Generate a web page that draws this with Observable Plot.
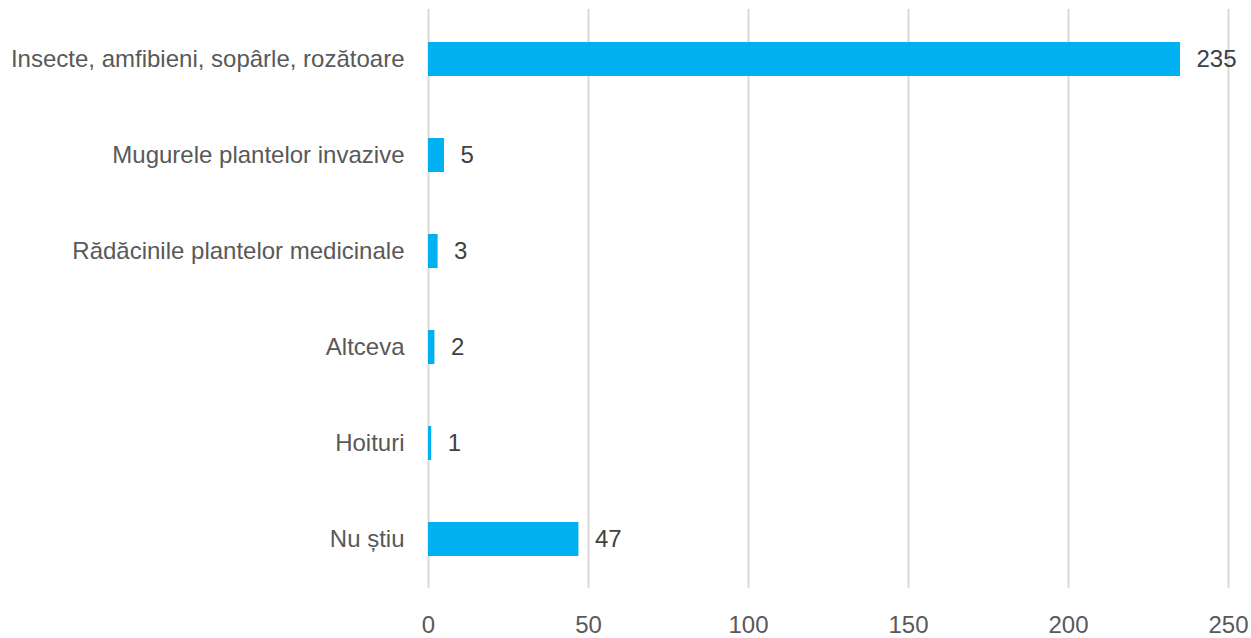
<!DOCTYPE html>
<html><head><meta charset="utf-8">
<script src="https://cdn.jsdelivr.net/npm/d3@7"></script>
<script src="https://cdn.jsdelivr.net/npm/@observablehq/plot@0.6"></script>
<style>
body{margin:0;background:#fff;}
svg{display:block;}
</style>
</head><body>
<div id="chart"></div>
<script>
const categories = ["Insecte, amfibieni, sopârle, rozătoare","Mugurele plantelor invazive","Rădăcinile plantelor medicinale","Altceva","Hoituri","Nu știu"];
const values = [235,5,3,2,1,47];
const xTicks = [0,50,100,150,200,250];
const data = categories.map((c,i)=>({cat:c, v:values[i]}));

const chart = Plot.plot({
  width:1251, height:638,
  marginLeft:428, marginRight:23, marginTop:9, marginBottom:50,
  style:{fontFamily:"'Liberation Sans', Arial, sans-serif", fontSize:"24px", color:"#595959", background:"#fff"},
  x:{domain:[0,250], ticks:xTicks, label:null},
  y:{domain:categories, label:null, paddingInner:0.647, paddingOuter:0.3235},
  marks:[
    Plot.ruleX(xTicks, {stroke:"#d9d9d9", strokeWidth:2}),
    Plot.barX(data, {y:"cat", x:"v", fill:"#00B0F0"}),
    Plot.text(data, {y:"cat", x:"v", text:d=>String(d.v), textAnchor:"start", dx:16, fill:"#404040", fontSize:24}),
    Plot.axisX({ticks:xTicks, tickSize:0, tickPadding:27, fontSize:24, fill:"#595959", label:null}),
    Plot.axisY({tickSize:0, tickPadding:24, fontSize:24, fill:"#595959", label:null})
  ]
});
document.getElementById("chart").appendChild(chart);
</script>
</body></html>
